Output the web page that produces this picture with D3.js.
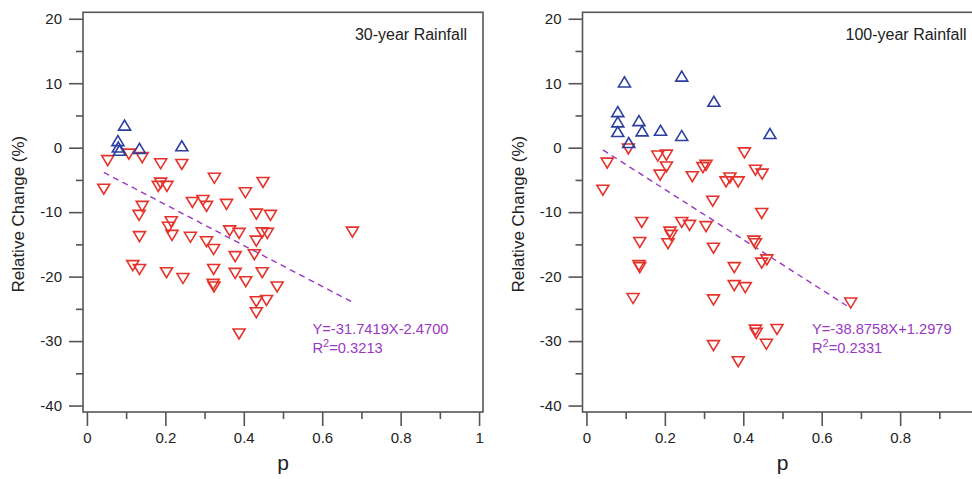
<!DOCTYPE html>
<html>
<head>
<meta charset="utf-8">
<script src="https://cdn.jsdelivr.net/npm/d3@7"></script>
<style>
  html, body { margin: 0; padding: 0; background: #fff; }
  svg { display: block; font-family: "Liberation Sans", Arial, Helvetica, sans-serif; }
</style>
</head>
<body>
<svg id="chart" width="972" height="479"></svg>
<script>
// ---- data: [p, relative change %] ----
const rain30Increase = [
  [0.096, 3.5], [0.079, 1.1], [0.080, 0.1], [0.083, -0.4], [0.134, -0.1], [0.242, 0.3]
];
const rain30Decrease = [
  [0.053, -2.0], [0.107, -1.0], [0.141, -1.55], [0.188, -2.5], [0.242, -2.6],
  [0.043, -6.45], [0.325, -4.75], [0.449, -5.4], [0.188, -5.5], [0.182, -6.0],
  [0.204, -6.0], [0.404, -7.0], [0.269, -8.5], [0.296, -8.2], [0.305, -9.1],
  [0.356, -8.8], [0.141, -9.1], [0.133, -10.5], [0.432, -10.3], [0.468, -10.5],
  [0.215, -11.5], [0.208, -12.35], [0.217, -13.6], [0.134, -13.8], [0.264, -13.9],
  [0.364, -12.9], [0.388, -13.3], [0.305, -14.6], [0.323, -15.8], [0.432, -14.5],
  [0.447, -13.2], [0.460, -13.3], [0.378, -16.9], [0.427, -16.6], [0.117, -18.3],
  [0.134, -18.9], [0.203, -19.4], [0.245, -20.3], [0.323, -18.9], [0.378, -19.5],
  [0.447, -19.4], [0.405, -20.8], [0.322, -21.2], [0.324, -21.6], [0.485, -21.6],
  [0.432, -23.9], [0.458, -23.7], [0.432, -25.6], [0.388, -28.9], [0.677, -13.1]
];
const rain100Increase = [
  [0.097, 10.2], [0.243, 11.1], [0.325, 7.2], [0.080, 5.6], [0.080, 4.0],
  [0.134, 4.2], [0.080, 2.5], [0.142, 2.6], [0.189, 2.7], [0.243, 1.9],
  [0.108, 0.8], [0.468, 2.2]
];
const rain100Decrease = [
  [0.107, -0.2], [0.053, -2.4], [0.042, -6.6], [0.182, -1.3], [0.204, -1.15],
  [0.204, -3.0], [0.188, -4.25], [0.403, -0.8], [0.270, -4.5], [0.297, -3.1],
  [0.305, -2.75], [0.356, -5.3], [0.366, -4.7], [0.387, -5.3], [0.431, -3.5],
  [0.448, -4.1], [0.322, -8.3], [0.447, -10.2], [0.141, -11.6], [0.243, -11.6],
  [0.263, -12.05], [0.305, -12.25], [0.213, -13.1], [0.216, -13.6], [0.136, -14.7],
  [0.208, -14.9], [0.324, -15.6], [0.427, -14.5], [0.431, -14.9], [0.134, -18.3],
  [0.136, -18.6], [0.377, -18.6], [0.447, -17.9], [0.460, -17.4], [0.377, -21.4],
  [0.405, -21.7], [0.119, -23.4], [0.324, -23.6], [0.431, -28.3], [0.433, -28.8],
  [0.486, -28.2], [0.459, -30.5], [0.324, -30.7], [0.387, -33.2], [0.674, -24.1]
];

// regression fits: slope, intercept, R^2
const fit30 = { slope: -31.7419, intercept: -2.4700, r2: "0.3213" };
const fit100 = { slope: -38.8758, intercept: 1.2979, r2: "0.2331" };

const xLabels30 = [0, 0.2, 0.4, 0.6, 0.8, 1];
const xLabels100 = [0, 0.2, 0.4, 0.6, 0.8];
const xMinorTicks = [0.1, 0.3, 0.5, 0.7, 0.9];
const yMajorTicks = [-40, -30, -20, -10, 0, 10, 20];
const yMinorTicks = [-35, -25, -15, -5, 5, 15];

const panels = [
  { title: "30-year Rainfall", up: rain30Increase, down: rain30Decrease, fit: fit30, xLabels: xLabels30, left: 83 },
  { title: "100-year Rainfall", up: rain100Increase, down: rain100Decrease, fit: fit100, xLabels: xLabels100, left: 582.5 }
];

// ---- drawing ----
const svg = d3.select("#chart");
const boxW = 400, boxTop = 12.3, boxBottom = 412;
const axisColor = "#555";
const redColor = "#e5322b";
const blueColor = "#2c3f9f";
const fitColor = "#9a38c2";
const fmt = d => String(+d.toFixed(2));   // plain hyphen for negatives

// triangle outlines centred on the point
const triDown = "M-6,-5L6,-5L0,5Z";
const triUp = "M-6,5L6,5L0,-5Z";

panels.forEach(pn => {
  const x = d3.scaleLinear().domain([-0.01, 1.01]).range([pn.left, pn.left + boxW]);
  const y = d3.scaleLinear().domain([-41, 21]).range([boxBottom, boxTop]);
  const g = svg.append("g");

  const xMajor = d3.axisBottom(x).tickValues(pn.xLabels).tickSize(14).tickFormat(fmt).tickPadding(6);
  const xMinor = d3.axisBottom(x).tickValues(xMinorTicks).tickSize(7).tickFormat("");
  const yMajor = d3.axisLeft(y).tickValues(yMajorTicks).tickSize(14).tickFormat(fmt).tickPadding(7);
  const yMinor = d3.axisLeft(y).tickValues(yMinorTicks).tickSize(7).tickFormat("");

  [[xMajor, `translate(0,${boxBottom})`], [xMinor, `translate(0,${boxBottom})`],
   [yMajor, `translate(${pn.left},0)`], [yMinor, `translate(${pn.left},0)`]].forEach(([ax, tr]) => {
    const a = g.append("g").attr("transform", tr).call(ax);
    a.select(".domain").remove();
    a.selectAll(".tick line").attr("stroke", axisColor).attr("stroke-width", 1.6);
    a.selectAll(".tick text").attr("fill", "#222").style("font-size", "15px")
      .style("font-family", "'Liberation Sans', Arial, sans-serif");
  });

  // frame
  g.append("rect")
    .attr("x", pn.left).attr("y", boxTop)
    .attr("width", boxW).attr("height", boxBottom - boxTop)
    .attr("fill", "none").attr("stroke", axisColor).attr("stroke-width", 1.6);

  // axis titles
  g.append("text")
    .attr("transform", `translate(${pn.left - 59},${(boxTop + boxBottom) / 2 + 2}) rotate(-90)`)
    .attr("text-anchor", "middle").attr("fill", "#222")
    .style("font-size", "17px").text("Relative Change (%)");
  g.append("text")
    .attr("x", x(0.5)).attr("y", 470)
    .attr("text-anchor", "middle").attr("fill", "#222")
    .style("font-size", "21px").text("p");

  // panel title
  g.append("text")
    .attr("x", pn.left + boxW - 16).attr("y", 40)
    .attr("text-anchor", "end").attr("fill", "#222")
    .style("font-size", "16px").text(pn.title);

  // regression line over the observed range of p
  const all = pn.up.concat(pn.down);
  const [pMin, pMax] = d3.extent(all, d => d[0]);
  const f = p => pn.fit.slope * p + pn.fit.intercept;
  g.append("line")
    .attr("x1", x(pMin)).attr("y1", y(f(pMin)))
    .attr("x2", x(pMax)).attr("y2", y(f(pMax)))
    .attr("stroke", fitColor).attr("stroke-width", 1.4)
    .attr("stroke-dasharray", "6,4.5");

  // markers
  g.selectAll("path.down").data(pn.down).join("path")
    .attr("class", "down")
    .attr("d", triDown)
    .attr("transform", d => `translate(${x(d[0])},${y(d[1])})`)
    .attr("fill", "none").attr("stroke", redColor).attr("stroke-width", 1.6);
  g.selectAll("path.up").data(pn.up).join("path")
    .attr("class", "up")
    .attr("d", triUp)
    .attr("transform", d => `translate(${x(d[0])},${y(d[1])})`)
    .attr("fill", "none").attr("stroke", blueColor).attr("stroke-width", 1.6);

  // equation and R^2
  const eqX = pn.left + 229.5;
  const sign = pn.fit.intercept < 0 ? "-" : "+";
  g.append("text")
    .attr("x", eqX).attr("y", 333.5).attr("fill", fitColor)
    .style("font-size", "14.7px")
    .text(`Y=${pn.fit.slope.toFixed(4)}X${sign}${Math.abs(pn.fit.intercept).toFixed(4)}`);
  const r = g.append("text")
    .attr("x", eqX).attr("y", 352.7).attr("fill", fitColor)
    .style("font-size", "14.7px");
  r.append("tspan").text("R");
  r.append("tspan").attr("dy", -6).style("font-size", "11px").text("2");
  r.append("tspan").attr("dy", 6).text(`=${pn.fit.r2}`);
});
</script>
</body>
</html>
